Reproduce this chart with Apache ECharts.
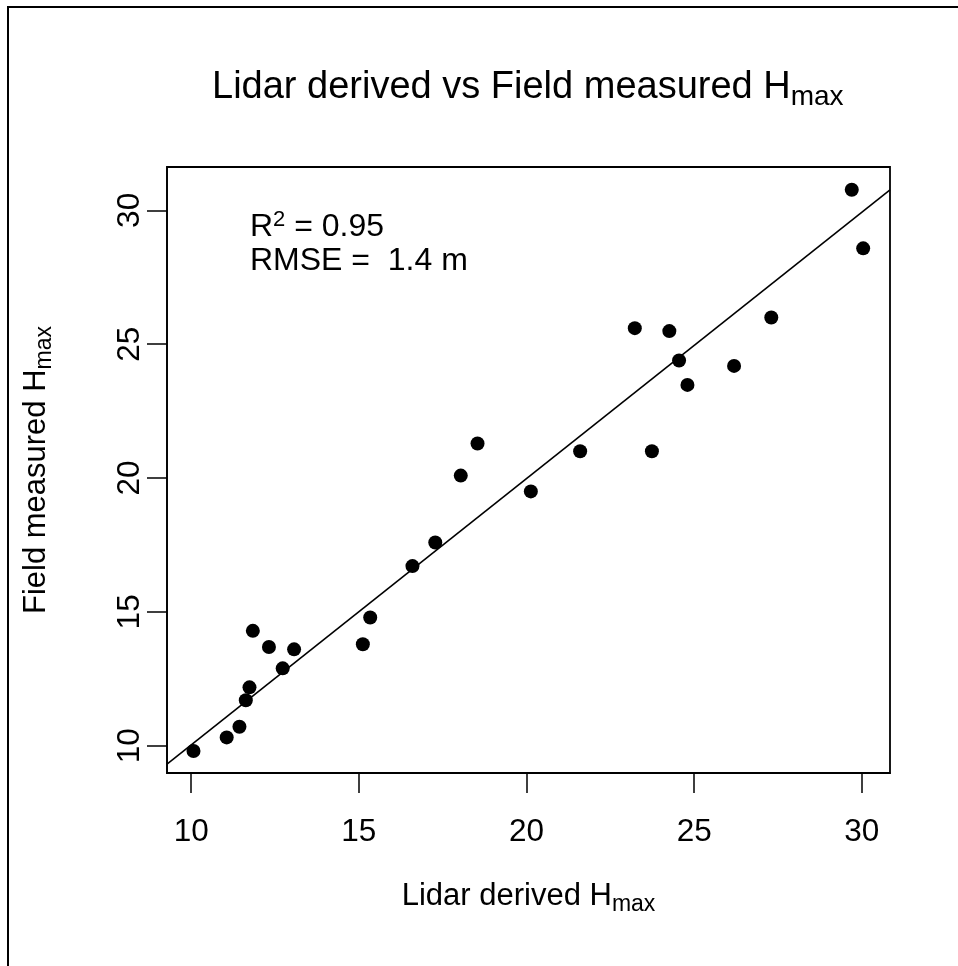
<!DOCTYPE html>
<html>
<head>
<meta charset="utf-8">
<script src="https://cdn.jsdelivr.net/npm/echarts@6/dist/echarts.min.js"></script>
<style>
  html, body { margin: 0; padding: 0; background: #fff; }
  #chart { width: 958px; height: 966px; }
</style>
</head>
<body>
<div id="chart"></div>
<script>
// lidar derived vs field measured max height (m)
const lidarH = [10.07, 11.06, 11.44, 11.63, 11.74, 11.84, 12.32, 12.73, 13.07, 15.12, 15.34, 16.60, 17.28,
  18.04, 18.54, 20.13, 21.60, 23.23, 23.74, 24.26, 24.55, 24.80, 26.19, 27.30, 29.70, 30.04]
const fieldH = [9.80, 10.31, 10.71, 11.70, 12.18, 14.29, 13.69, 12.89, 13.60, 13.79, 14.79, 16.71, 17.59,
  20.09, 21.29, 19.50, 21.00, 25.60, 21.00, 25.49, 24.39, 23.48, 24.19, 26.00, 30.77, 28.58]
const tickValues = [10, 15, 20, 25, 30]
const fitIntercept = 0.08
const fitSlope = 0.995
const xRange = [9.28, 30.84]
const yRange = [8.98, 31.62]

const FONT = '"Liberation Sans", Arial, sans-serif'

const chart = echarts.init(document.getElementById('chart'))

const points = lidarH.map((x, i) => [x, fieldH[i]])
const fitLine = xRange.map(x => [x, fitIntercept + fitSlope * x])

const option = {
  animation: false,
  backgroundColor: '#fff',
  textStyle: { fontFamily: FONT, color: '#000' },
  title: {
    text: '{a|Lidar derived vs Field measured H}{b|max}',
    left: 212,
    top: 64,
    padding: 0,
    textStyle: {
      fontWeight: 'normal',
      rich: {
        a: { fontSize: 38, fontFamily: FONT, fontWeight: 'normal', color: '#000' },
        b: { fontSize: 28, fontFamily: FONT, fontWeight: 'normal', color: '#000', padding: [19, 0, 0, 0] },
      },
    },
  },
  grid: {
    left: 167,
    right: 68,
    top: 167,
    bottom: 193,
    show: true,
    borderColor: '#000',
    borderWidth: 1.8,
    containLabel: false,
    outerBoundsMode: 'none',
  },
  xAxis: {
    type: 'value',
    min: xRange[0],
    max: xRange[1],
    name: '{a|Lidar derived H}{b|max}',
    nameLocation: 'middle',
    nameGap: 104,
    nameTextStyle: {
      rich: {
        a: { fontSize: 31, fontFamily: FONT, color: '#000' },
        b: { fontSize: 23, fontFamily: FONT, color: '#000', padding: [16, 0, 0, 0] },
      },
    },
    axisLine: { show: true, onZero: false, lineStyle: { color: '#000', width: 1.5 } },
    axisTick: { show: true, length: 20, customValues: tickValues, lineStyle: { color: '#000', width: 1.5 } },
    axisLabel: { fontSize: 31.5, color: '#000', margin: 43, customValues: tickValues },
    splitLine: { show: false },
  },
  yAxis: {
    type: 'value',
    min: yRange[0],
    max: yRange[1],
    name: '{a|Field measured H}{b|max}',
    nameLocation: 'middle',
    nameGap: 111,
    nameTextStyle: {
      rich: {
        a: { fontSize: 31, fontFamily: FONT, color: '#000' },
        b: { fontSize: 23, fontFamily: FONT, color: '#000', padding: [16, 0, 0, 0] },
      },
    },
    axisLine: { show: true, onZero: false, lineStyle: { color: '#000', width: 1.5 } },
    axisTick: { show: true, length: 20, customValues: tickValues, lineStyle: { color: '#000', width: 1.5 } },
    axisLabel: { fontSize: 31.5, color: '#000', margin: 21, rotate: 90, customValues: tickValues },
    splitLine: { show: false },
  },
  graphic: [
    {
      type: 'rect',
      z: -1,
      shape: { x: 8, y: 7, width: 1000, height: 1000 },
      style: { fill: 'none', stroke: '#000', lineWidth: 2 },
    },
    {
      type: 'text',
      x: 250,
      y: 227,
      style: {
        text: '{a|R}{s|2}{a| = 0.95}',
        verticalAlign: 'middle',
        align: 'left',
        rich: {
          a: { fontSize: 32, fontFamily: FONT, fill: '#000' },
          s: { fontSize: 22, fontFamily: FONT, fill: '#000', padding: [0, 0, 15, 0] },
        },
      },
    },
    {
      type: 'text',
      x: 250,
      y: 261,
      style: {
        text: 'RMSE =  1.4 m',
        verticalAlign: 'middle',
        align: 'left',
        fontSize: 32,
        fontFamily: FONT,
        fill: '#000',
      },
    },
  ],
  series: [
    {
      name: 'fit',
      type: 'line',
      data: fitLine,
      symbol: 'none',
      clip: true,
      lineStyle: { color: '#000', width: 1.6 },
      z: 2,
    },
    {
      name: 'plots',
      type: 'scatter',
      data: points,
      symbol: 'circle',
      symbolSize: 14,
      itemStyle: { color: '#000', opacity: 1 },
      z: 3,
    },
  ],
}

chart.setOption(option)
window.addEventListener('resize', () => chart.resize())
</script>
</body>
</html>
